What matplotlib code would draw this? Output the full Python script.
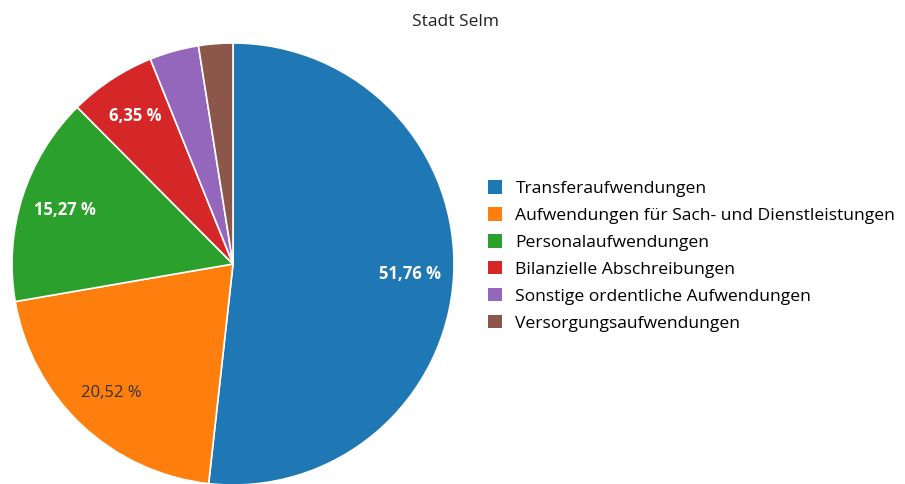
import matplotlib
matplotlib.use("Agg")
import matplotlib.pyplot as plt
from matplotlib.patches import Patch

plt.rcParams['font.family'] = ['Open Sans', 'DejaVu Sans']

title = "Stadt Selm"
categories = [
    "Transferaufwendungen",
    "Aufwendungen für Sach- und Dienstleistungen",
    "Personalaufwendungen",
    "Bilanzielle Abschreibungen",
    "Sonstige ordentliche Aufwendungen",
    "Versorgungsaufwendungen",
]
shares = [51.76, 20.52, 15.27, 6.35, 3.6, 2.5]
colors = ["#1f77b4", "#ff7f0e", "#2ca02c", "#d62728", "#9467bd", "#8c564b"]
label_colors = ["white", "#333333", "white", "white", "white", "white"]
label_weights = ["bold", "normal", "bold", "bold", "bold", "bold"]


def fmt(p):
    # only label slices above 5 %
    return f"{p:.2f} %".replace(".", ",") if p > 5 else ""


fig = plt.figure(figsize=(9.05, 4.84), dpi=100)
fig.text(455 / 905, 1 - 22 / 484, title, ha="center", va="center", fontsize=12.5, color="#222222")

ax = fig.add_axes([12 / 905, -1 / 484, 442 / 905, 442 / 484])
wedges, texts, autotexts = ax.pie(
    shares, colors=colors, startangle=90, counterclock=False,
    autopct=fmt, pctdistance=0.8,
    wedgeprops=dict(edgecolor="white", linewidth=1.2),
)
for t, c, w in zip(autotexts, label_colors, label_weights):
    t.set_color(c)
    t.set_fontweight(w)
    t.set_fontsize(12)
ax.set_xlim(-1, 1)
ax.set_ylim(-1, 1)
ax.set_aspect("equal")

handles = [Patch(facecolor=c, edgecolor="none") for c in colors]
fig.legend(handles, categories, loc="center left", bbox_to_anchor=(476 / 905, 1 - 256 / 484),
           frameon=False, fontsize=12.6, handlelength=0.8, handleheight=0.8,
           handletextpad=0.75, labelspacing=0.58, borderpad=0.2)

fig.savefig("out.png", dpi=100)
